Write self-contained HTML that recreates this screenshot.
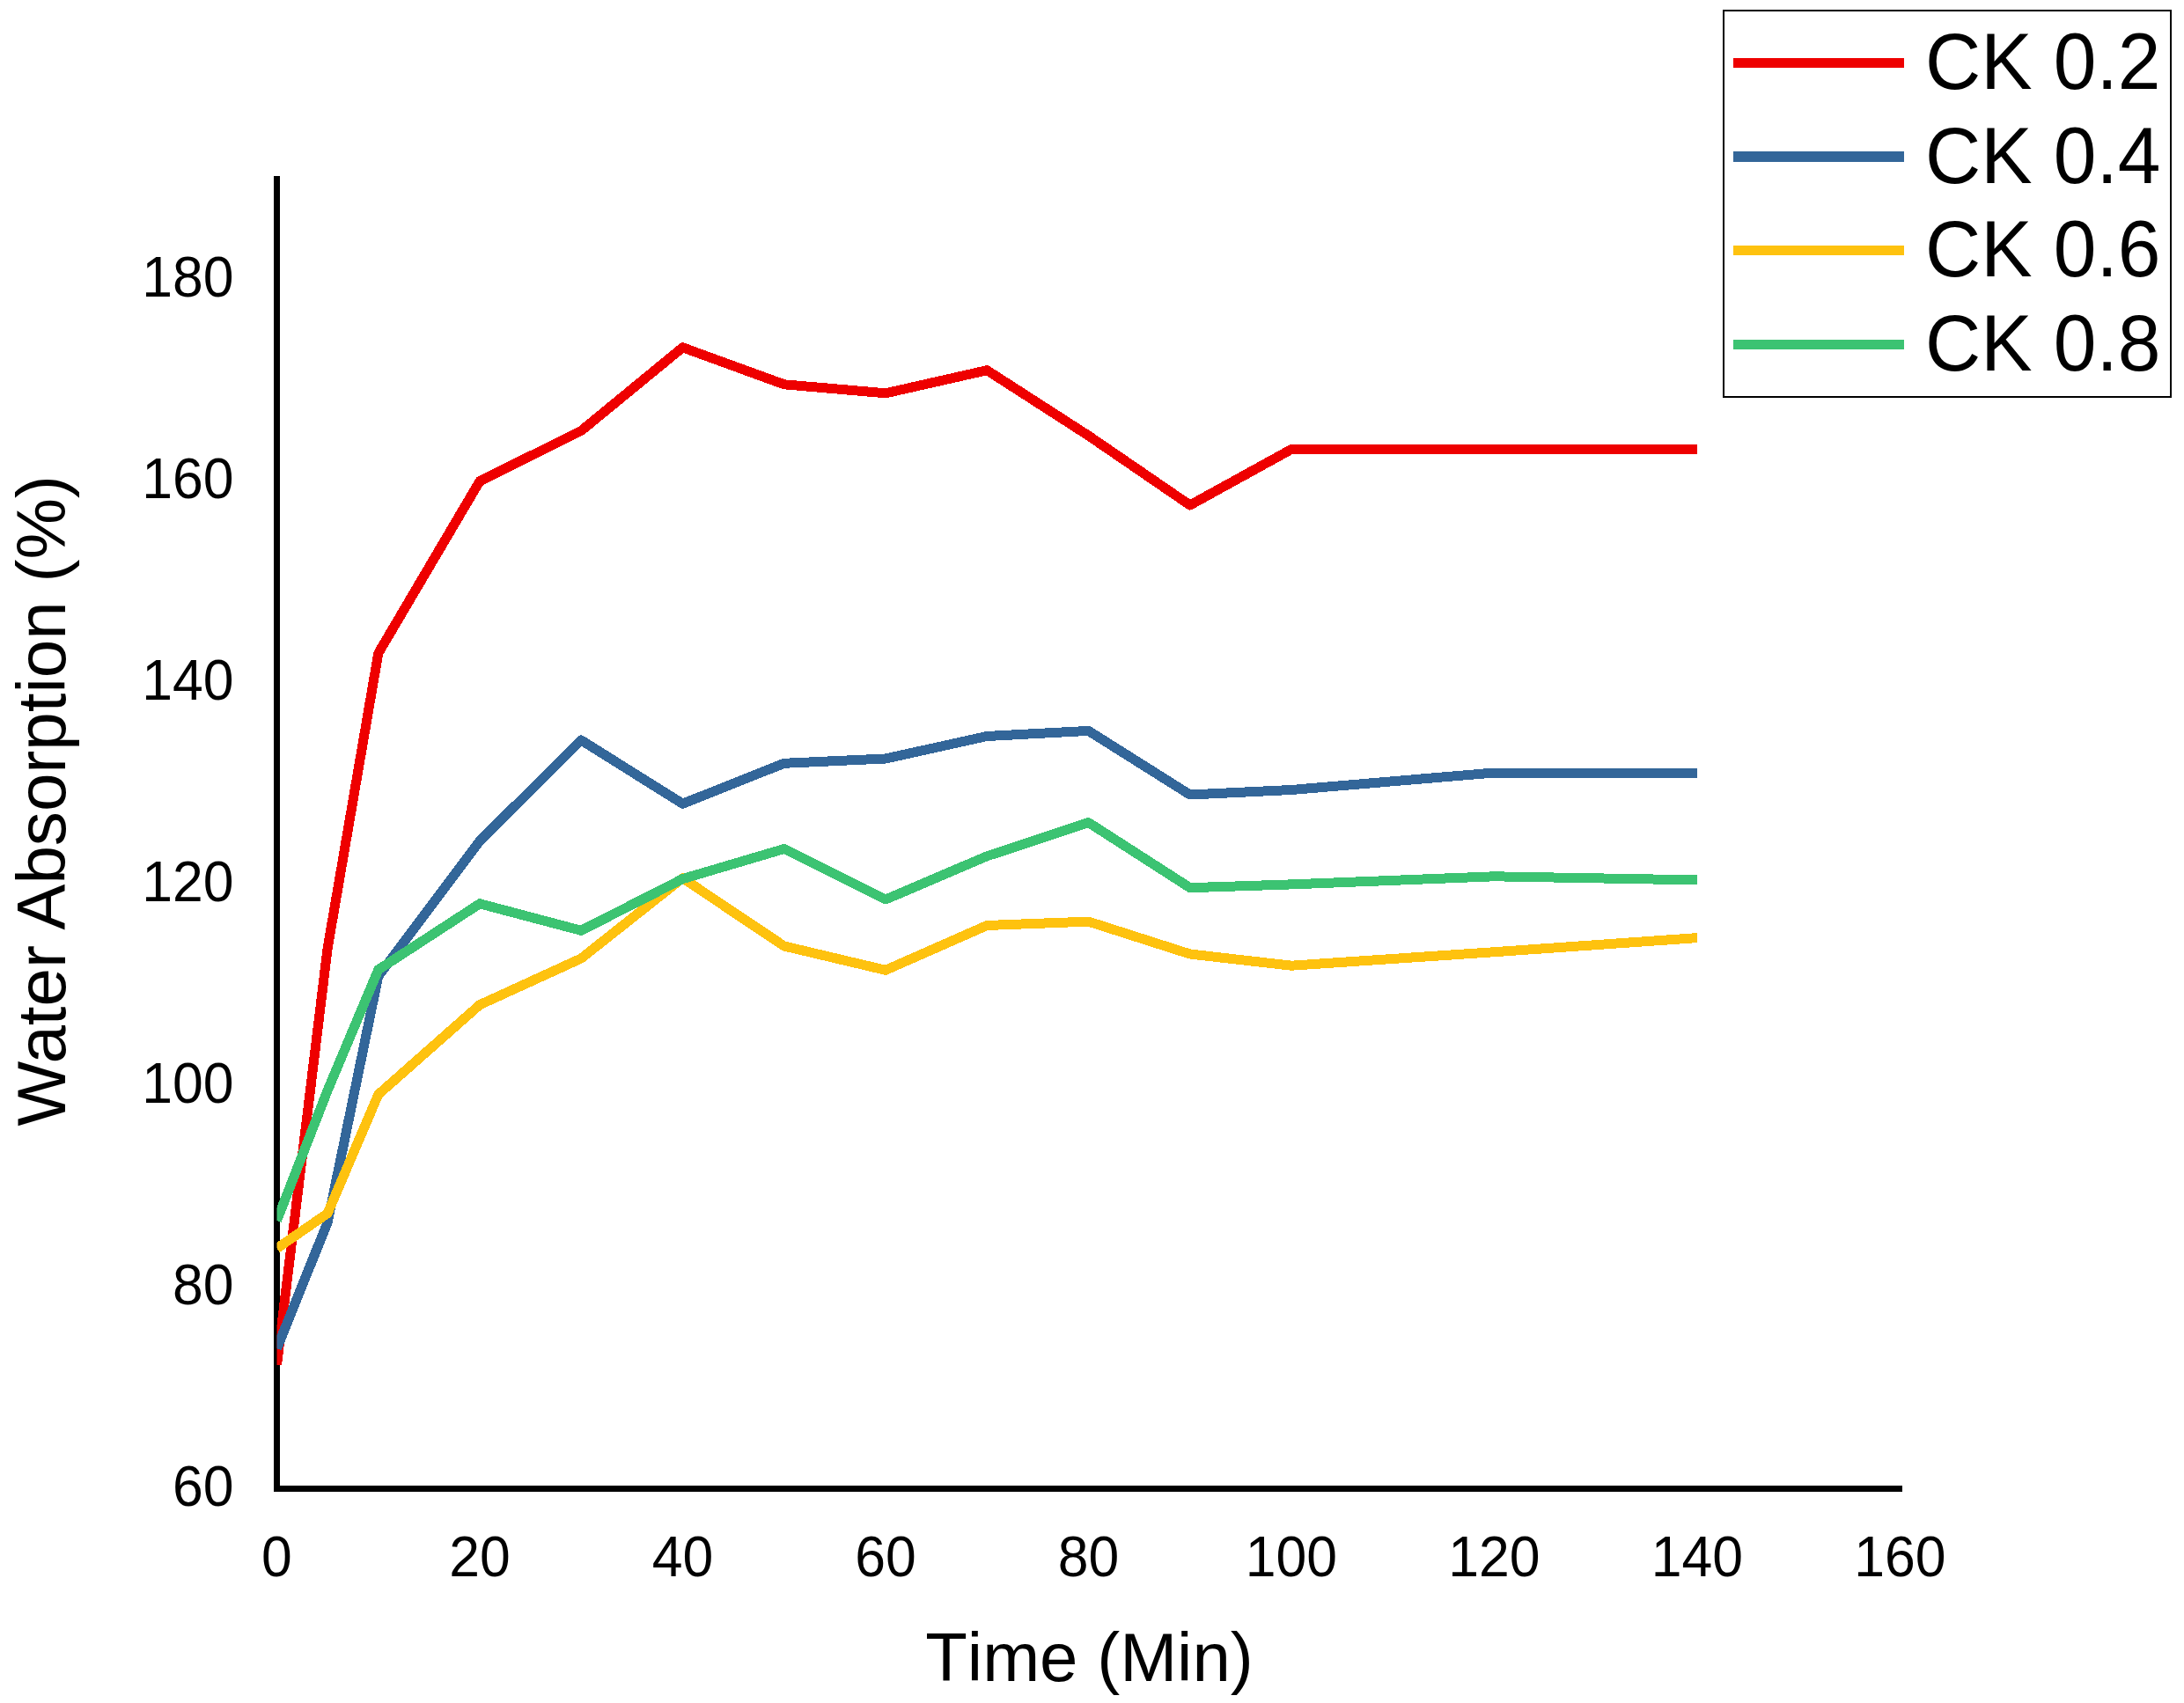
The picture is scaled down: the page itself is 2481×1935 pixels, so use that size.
<!DOCTYPE html>
<html lang="en"><head><meta charset="utf-8"><title>Water Absorption vs Time</title>
<style>
html,body{margin:0;padding:0;background:#fff;}
body{width:2481px;height:1935px;overflow:hidden;}
svg{display:block;}
text{font-family:"Liberation Sans", Arial, sans-serif;fill:#000;font-kerning:normal;}
.tick{font-size:62.5px;}
.title{font-size:78px;}
.leg{font-size:87.5px;}
.ser{shape-rendering:crispEdges;fill:none;stroke-width:11;stroke-linejoin:round;stroke-linecap:butt;}
</style></head><body>
<svg width="2481" height="1935" viewBox="0 0 2481 1935">
<rect x="0" y="0" width="2481" height="1935" fill="#ffffff"/>
<rect x="311" y="200" width="7" height="1495" fill="#000"/>
<rect x="311" y="1688" width="1850" height="7" fill="#000"/>
<defs><clipPath id="plot"><rect x="314.5" y="190" width="1900" height="1510"/></clipPath></defs>
<g clip-path="url(#plot)">
<polyline class="ser" stroke="#ee0000" points="314.5,1550.6 372.1,1077.5 429.8,742.1 545.0,546.7 660.2,489.5 775.5,394.8 890.8,436.8 1006.0,446.8 1121.2,420.7 1236.5,495.0 1351.8,574.0 1467.0,510.5 1697.5,510.5 1928.0,510.5"/>
<polyline class="ser" stroke="#336699" points="314.5,1532.2 372.1,1389.0 429.8,1109.0 545.0,955.6 660.2,841.0 775.5,913.2 890.8,867.3 1006.0,862.0 1121.2,836.5 1236.5,830.4 1351.8,903.0 1467.0,897.5 1697.5,878.0 1928.0,878.0"/>
<polyline class="ser" stroke="#fec20f" points="314.5,1418.5 372.1,1378.7 429.8,1243.5 545.0,1141.7 660.2,1089.0 775.5,997.7 890.8,1075.0 1006.0,1102.3 1121.2,1051.5 1236.5,1047.1 1351.8,1084.0 1467.0,1097.2 1697.5,1081.7 1928.0,1065.6"/>
<polyline class="ser" stroke="#3cc372" points="314.5,1386.8 372.1,1239.0 429.8,1101.8 545.0,1026.8 660.2,1057.3 775.5,998.6 890.8,964.5 1006.0,1022.0 1121.2,972.8 1236.5,934.6 1351.8,1008.7 1467.0,1004.9 1697.5,995.8 1928.0,999.9"/>
</g>
<text class="tick" text-anchor="end" transform="translate(265.5 1711.4) scale(1 1.04)">60</text>
<text class="tick" text-anchor="end" transform="translate(265.5 1482.4) scale(1 1.04)">80</text>
<text class="tick" text-anchor="end" transform="translate(265.5 1253.4) scale(1 1.04)">100</text>
<text class="tick" text-anchor="end" transform="translate(265.5 1024.4) scale(1 1.04)">120</text>
<text class="tick" text-anchor="end" transform="translate(265.5 795.4) scale(1 1.04)">140</text>
<text class="tick" text-anchor="end" transform="translate(265.5 566.4) scale(1 1.04)">160</text>
<text class="tick" text-anchor="end" transform="translate(265.5 337.4) scale(1 1.04)">180</text>
<text class="tick" text-anchor="middle" transform="translate(314.5 1790.5) scale(1 1.04)">0</text>
<text class="tick" text-anchor="middle" transform="translate(545.0 1790.5) scale(1 1.04)">20</text>
<text class="tick" text-anchor="middle" transform="translate(775.5 1790.5) scale(1 1.04)">40</text>
<text class="tick" text-anchor="middle" transform="translate(1006.0 1790.5) scale(1 1.04)">60</text>
<text class="tick" text-anchor="middle" transform="translate(1236.5 1790.5) scale(1 1.04)">80</text>
<text class="tick" text-anchor="middle" transform="translate(1467.0 1790.5) scale(1 1.04)">100</text>
<text class="tick" text-anchor="middle" transform="translate(1697.5 1790.5) scale(1 1.04)">120</text>
<text class="tick" text-anchor="middle" transform="translate(1928.0 1790.5) scale(1 1.04)">140</text>
<text class="tick" text-anchor="middle" transform="translate(2158.5 1790.5) scale(1 1.04)">160</text>
<text class="title" style="font-size:78px;font-kerning:none" text-anchor="middle" x="1237.5" y="1910">Time (Min)</text>
<text class="title" style="font-size:78.1px" text-anchor="middle" transform="translate(74 909.8) rotate(-90)">Water Absorption (%)</text>
<rect x="1958" y="12" width="508" height="439" fill="#fff" stroke="#000" stroke-width="2"/>
<rect x="1969" y="66" width="194" height="11" fill="#ee0000"/>
<text class="leg" transform="translate(2187 101.0) scale(1 1.04)">CK 0.2</text>
<rect x="1969" y="172" width="194" height="12" fill="#336699"/>
<text class="leg" transform="translate(2187 207.7) scale(1 1.04)">CK 0.4</text>
<rect x="1969" y="279" width="194" height="11" fill="#fec20f"/>
<text class="leg" transform="translate(2187 314.3) scale(1 1.04)">CK 0.6</text>
<rect x="1969" y="386" width="194" height="11" fill="#3cc372"/>
<text class="leg" transform="translate(2187 421.0) scale(1 1.04)">CK 0.8</text>
</svg></body></html>
